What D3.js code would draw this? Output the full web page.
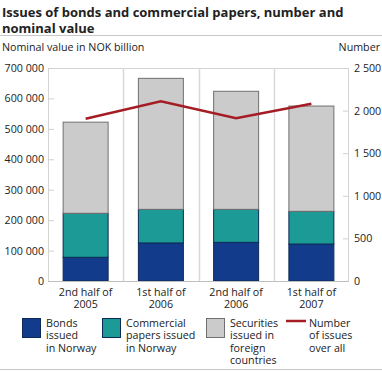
<!DOCTYPE html>
<html><head><meta charset="utf-8">
<script src="https://cdn.jsdelivr.net/npm/d3@7"></script>
<style>body{margin:0;background:#fff}svg{display:block}text{font-family:"Open Sans",sans-serif;fill:#222}</style>
</head><body><svg id="c" width="382" height="371"></svg>
<script>
const categories = [["2nd half of","2005"],["1st half of","2006"],["2nd half of","2006"],["1st half of","2007"]];
const bonds = [78000, 125000, 127000, 121500];
const commercial = [144500, 110500, 108500, 107500];
const foreign = [299500, 430500, 388000, 346000];
const numberIssues = [1905, 2110, 1910, 2080];
const leftTicks = [0,100000,200000,300000,400000,500000,600000,700000];
const rightTicks = [0,500,1000,1500,2000,2500];
const seriesNames = [["Bonds","issued","in Norway"],["Commercial","papers issued","in Norway"],["Securities","issued in","foreign","countries"],["Number","of issues","over all"]];
const colors = ["#133b8c","#1b9a96","#cbcbcb","#a51c24"];

const svg = d3.select("#c");
const L=48,R=349,T=68,B=281;
const FS="10.7px";
const fmt = v => d3.format(",")(v).replace(/,/g," ");
const x = d3.scaleBand().domain(d3.range(4)).range([L,R]).paddingInner(0).paddingOuter(0);
const y = d3.scaleLinear().domain([0,700000]).range([B,T]);
const y2 = d3.scaleLinear().domain([0,2500]).range([B,T]);

// title
svg.append("text").attr("x",2).attr("y",17).style("font-weight","bold").style("font-size","13px").text("Issues of bonds and commercial papers, number and");
svg.append("text").attr("x",2).attr("y",33).style("font-weight","bold").style("font-size","13px").text("nominal value");
svg.append("line").attr("x1",0).attr("x2",382).attr("y1",35.5).attr("y2",35.5).attr("stroke","#c8c8c8");
svg.append("line").attr("x1",0).attr("x2",382).attr("y1",369.5).attr("y2",369.5).attr("stroke","#c8c8c8");
svg.append("text").attr("x",2).attr("y",51).style("font-size",FS).text("Nominal value in NOK billion");
svg.append("text").attr("x",380).attr("y",51).attr("text-anchor","end").style("font-size",FS).text("Number");

// frame and separators
svg.append("rect").attr("x",L+0.5).attr("y",T+0.5).attr("width",R-L-1).attr("height",B-T).attr("fill","none").attr("stroke","#d4d4d4");
svg.selectAll(".sep").data(d3.range(1,4)).join("line").attr("x1",d=>Math.round(x(d))+0.5).attr("x2",d=>Math.round(x(d))+0.5).attr("y1",T).attr("y2",B).attr("stroke","#d8d8d8").attr("stroke-width",1.5);

// axes
const la = svg.append("g").attr("transform",`translate(${L},0)`).call(d3.axisRight(y).tickValues(leftTicks).tickSize(6).tickFormat(""));
la.select(".domain").remove(); la.selectAll("line").attr("stroke","#d0d0d0");
leftTicks.forEach(v=>svg.append("text").attr("x",44).attr("y",y(v)+4).attr("text-anchor","end").style("font-size",FS).text(fmt(v)));
const ra = svg.append("g").attr("transform",`translate(${R},0)`).call(d3.axisLeft(y2).tickValues(rightTicks).tickSize(6).tickFormat(""));
ra.select(".domain").remove(); ra.selectAll("line").attr("stroke","#d0d0d0");
rightTicks.forEach(v=>svg.append("text").attr("x",354).attr("y",y2(v)+4).style("font-size",FS).text(fmt(v)));

// bars
const stack = d3.stack().keys([0,1,2]).value((d,k)=>[bonds,commercial,foreign][k][d])(d3.range(4));
const bw = 45;
stack.forEach((s,k)=>{
  svg.selectAll(".b"+k).data(s).join("rect")
    .attr("x",(d,i)=>x(i)+x.bandwidth()/2-bw/2).attr("width",bw)
    .attr("y",d=>y(d[1])).attr("height",d=>y(d[0])-y(d[1]))
    .attr("fill",colors[k]).attr("stroke",k==2?"#707070":"#0d2a55").attr("stroke-width",1);
});
svg.append("line").attr("x1",L).attr("x2",R).attr("y1",B+0.5).attr("y2",B+0.5).attr("stroke","#c0c0c0");

// line
svg.append("path").datum(numberIssues).attr("fill","none").attr("stroke",colors[3]).attr("stroke-width",2.5)
  .attr("d",d3.line().x((d,i)=>x(i)+x.bandwidth()/2).y(d=>y2(d)));

// x labels
categories.forEach((c,i)=>{
  svg.append("text").attr("x",x(i)+x.bandwidth()/2).attr("y",295.5).attr("text-anchor","middle").style("font-size",FS)
    .selectAll("tspan").data(c).join("tspan").attr("x",x(i)+x.bandwidth()/2).attr("dy",(d,j)=>j?12:0).text(d=>d);
});

// legend
const lx = [22,102,206,286];
seriesNames.forEach((n,k)=>{
  if(k<3) svg.append("rect").attr("x",lx[k]+0.5).attr("y",318.5).attr("width",18).attr("height",19).attr("fill",colors[k]).attr("stroke",k==2?"#707070":"#0d2a55");
  else svg.append("line").attr("x1",lx[k]).attr("x2",lx[k]+20).attr("y1",321).attr("y2",321).attr("stroke",colors[k]).attr("stroke-width",2.5);
  const tx = lx[k]+(k<3?24:23);
  svg.append("text").attr("x",tx).attr("y",326.5).style("font-size",FS)
    .selectAll("tspan").data(n).join("tspan").attr("x",tx).attr("dy",(d,j)=>j?12.5:0).text(d=>d);
});
</script></body></html>
